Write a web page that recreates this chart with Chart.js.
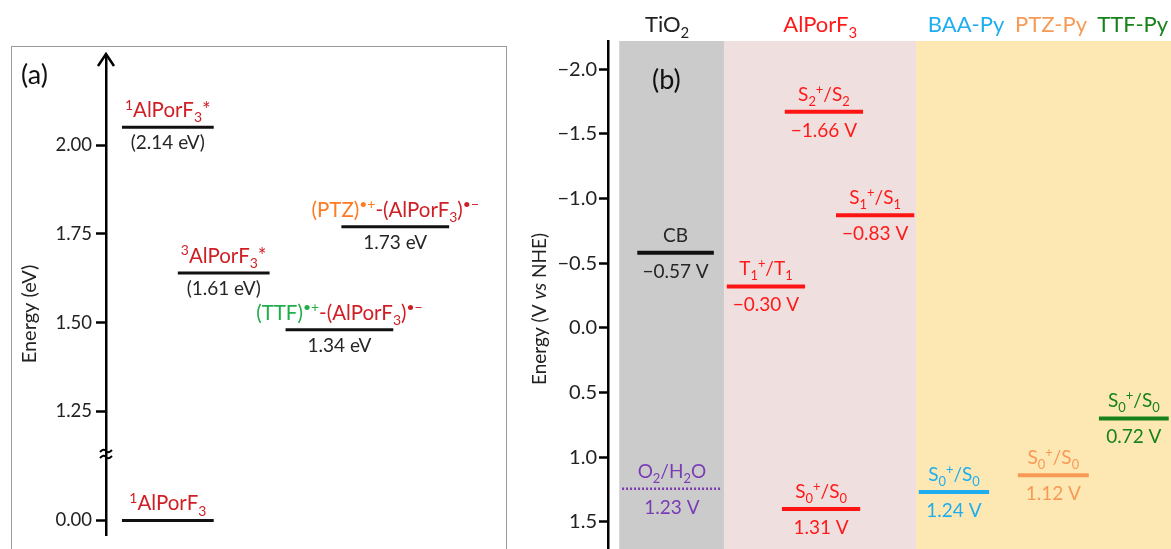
<!DOCTYPE html>
<html>
<head>
<meta charset="utf-8">
<script src="https://cdn.jsdelivr.net/npm/chart.js@4.4.1/dist/chart.umd.min.js"></script>
<style>
  body { margin: 0; background: #fff; width: 1171px; height: 549px; overflow: hidden; position: relative; }
  #boxA { position: absolute; left: 11px; top: 46px; width: 494px; height: 560px; border: 1.5px solid #9a9a9a; }
  canvas { position: absolute; top: 0; }
</style>
</head>
<body>
<div id="boxA"></div>
<canvas id="chartA" width="515" height="549" style="left:0"></canvas>
<canvas id="chartB" width="656" height="549" style="left:515px"></canvas>
<script>
// ---- panel (a): excited state energies ----
const aNames = ['1AlPorF3*', '3AlPorF3*', 'PTZ-CS', 'TTF-CS', '1AlPorF3'];
const aEnergy = [2.05, 1.64, 1.77, 1.48, 0.00];
const aStart = [4, 18, 59, 45, 4];
const aEnd = [27, 41, 86, 72, 27];
const aValueText = ['(2.14 eV)', '(1.61 eV)', '1.73 eV', '1.34 eV', ''];
const aTicks = [0.00, 1.25, 1.50, 1.75, 2.00];

// ---- panel (b): redox potentials ----
const bNames = ['CB', 'O2/H2O', 'T1', 'S0', 'S2', 'S1', 'BAA-Py', 'PTZ-Py', 'TTF-Py'];
const bPotential = [-0.58, 1.245, -0.32, 1.40, -1.67, -0.87, 1.27, 1.14, 0.70];
const bStart = [5.2, 2.5, 21.1, 30.9, 31.4, 40.5, 55.2, 72.8, 87.2];
const bEnd = [18.8, 20.2, 35.0, 44.8, 45.3, 54.4, 67.7, 85.4, 99.6];
const bLabels = ['CB', 'O_2/H_2O', 'T_1^+/T_1', 'S_0^+/S_0', 'S_2^+/S_2', 'S_1^+/S_1', 'S_0^+/S_0', 'S_0^+/S_0', 'S_0^+/S_0'];
const bValueText = ['\u22120.57 V', '1.23 V', '\u22120.30 V', '1.31 V', '\u22121.66 V', '\u22120.83 V', '1.24 V', '1.12 V', '0.72 V'];
const bTicks = [-2.0, -1.5, -1.0, -0.5, 0.0, 0.5, 1.0, 1.5];
const bColumns = ['TiO_2', 'AlPorF_3', 'BAA-Py', 'PTZ-Py', 'TTF-Py'];
const bColumnFrom = [2, 20.6, 54.7, 54.7, 54.7];
const bColumnTo = [20.6, 54.7, 100, 100, 100];
const bColumnCenter = [10.5, 37.7, 63.6, 78.7, 93.2];

const FONT = 'Lato, "Open Sans", sans-serif';
const darkRed = '#cf1f26', black = '#262626';
const aColors = ['#111', '#111', '#111', '#111', '#111'];
const aLabelSegs = [
  [['^1AlPorF_3*', darkRed]],
  [['^3AlPorF_3*', darkRed]],
  [['(PTZ)^{\u2022+}', '#ff7a22'], ['-(AlPorF_3)^{\u2022\u2212}', darkRed]],
  [['(TTF)^{\u2022+}', '#1fae4a'], ['-(AlPorF_3)^{\u2022\u2212}', darkRed]],
  [['^1AlPorF_3', darkRed]]
];
const bColors = ['#111', '#7a3cb4', '#ff1414', '#ff1414', '#ff1414', '#ff1414', '#1eaeef', '#f79a55', '#17821a'];
const bTextColors = ['#262626', '#7a3cb4', '#ff1a1a', '#ff1a1a', '#ff1a1a', '#ff1a1a', '#1eaeef', '#f79a55', '#17821a'];
const bColumnColors = ['#cbcbcb', '#f0dfdf', '#fde8b4', null, null];
const bColumnText = ['#222', '#ff1a1a', '#1eaeef', '#f79a55', '#17821a'];

// broken axis: ground state is drawn just below the break
const SHIFT = 0.943;
const plotY = v => v < 1 ? v + SHIFT : v;
const realY = p => p < 1.1 ? p - SHIFT : p;

function parseRich(str) {
  const runs = [];
  let i = 0;
  while (i < str.length) {
    const ch = str[i];
    if (ch === '_' || ch === '^') {
      let t;
      if (str[i + 1] === '{') {
        const j = str.indexOf('}', i);
        t = str.slice(i + 2, j);
        i = j + 1;
      } else {
        t = str[i + 1];
        i += 2;
      }
      runs.push({ t: t, mode: ch === '_' ? 1 : 2 });
    } else {
      let j = i;
      while (j < str.length && str[j] !== '_' && str[j] !== '^') j++;
      runs.push({ t: str.slice(i, j), mode: 0 });
      i = j;
    }
  }
  return runs;
}

function drawRich(ctx, segs, cx, base, size) {
  const parts = [];
  segs.forEach(s => parseRich(s[0]).forEach(r => parts.push({ t: r.t, mode: r.mode, c: s[1] })));
  let total = 0;
  parts.forEach(p => {
    p.size = p.mode ? size * 0.68 : size;
    ctx.font = p.size + 'px ' + FONT;
    p.w = ctx.measureText(p.t).width;
    total += p.w;
  });
  let x = cx - total / 2;
  ctx.textAlign = 'left';
  ctx.textBaseline = 'alphabetic';
  parts.forEach(p => {
    ctx.font = p.size + 'px ' + FONT;
    ctx.fillStyle = p.c;
    const dy = p.mode === 1 ? size * 0.25 : p.mode === 2 ? -size * 0.38 : 0;
    ctx.fillText(p.t, x, base + dy);
    x += p.w;
  });
}

function levelDatasets(values, starts, ends, colors, width, mapY, dotted) {
  return values.map((v, i) => ({
    data: [{ x: starts[i], y: mapY(v) }, { x: ends[i], y: mapY(v) }],
    showLine: true,
    borderColor: colors[i],
    borderWidth: i === dotted ? 2.5 : width,
    pointRadius: 0,
    borderDash: i === dotted ? [2, 2] : []
  }));
}

const labelsA = {
  id: 'labelsA',
  afterDraw(chart) {
    const ctx = chart.ctx, xs = chart.scales.x, ys = chart.scales.y;
    const area = chart.chartArea;
    ctx.save();
    // arrow head on top of axis
    ctx.strokeStyle = '#000';
    ctx.lineWidth = 2.5;
    ctx.beginPath();
    ctx.moveTo(area.left - 8, area.top + 9);
    ctx.lineTo(area.left, area.top - 3);
    ctx.lineTo(area.left + 8, area.top + 9);
    ctx.moveTo(area.left, area.top + 1);
    ctx.lineTo(area.left, area.top - 3);
    ctx.stroke();
    // break marks
    const yb = ys.getPixelForValue(1.13);
    ctx.lineWidth = 2;
    [-3, 3].forEach(d => {
      ctx.beginPath();
      ctx.moveTo(area.left - 6, yb + d + 1);
      ctx.quadraticCurveTo(area.left - 2, yb + d - 3, area.left, yb + d);
      ctx.quadraticCurveTo(area.left + 2, yb + d + 3, area.left + 6, yb + d - 1);
      ctx.stroke();
    });
    // level labels
    aEnergy.forEach((v, i) => {
      const cx = xs.getPixelForValue((aStart[i] + aEnd[i]) / 2);
      const y = ys.getPixelForValue(plotY(v));
      drawRich(ctx, aLabelSegs[i], cx, y - 10, 20.5);
      if (aValueText[i]) drawRich(ctx, [[aValueText[i], black]], cx, y + 22, 19);
    });
    // panel tag and axis title
    ctx.font = '27px ' + FONT;
    ctx.fillStyle = '#111';
    ctx.textAlign = 'left';
    ctx.fillText('(a)', 21, 84);
    ctx.translate(30, 314);
    ctx.rotate(-Math.PI / 2);
    ctx.font = '20px ' + FONT;
    ctx.textAlign = 'center';
    ctx.textBaseline = 'middle';
    ctx.fillStyle = '#222';
    ctx.fillText('Energy (eV)', 0, 0);
    ctx.restore();
  }
};

const bandsB = {
  id: 'bandsB',
  beforeDatasetsDraw(chart) {
    const ctx = chart.ctx, xs = chart.scales.x, area = chart.chartArea;
    ctx.save();
    bColumns.forEach((c, i) => {
      if (!bColumnColors[i]) return;
      const x0 = xs.getPixelForValue(bColumnFrom[i]);
      const x1 = xs.getPixelForValue(bColumnTo[i]);
      ctx.fillStyle = bColumnColors[i];
      ctx.fillRect(x0, area.top, x1 - x0, area.bottom - area.top);
    });
    ctx.restore();
  },
  afterDraw(chart) {
    const ctx = chart.ctx, xs = chart.scales.x, ys = chart.scales.y;
    ctx.save();
    bPotential.forEach((v, i) => {
      const cx = xs.getPixelForValue((bStart[i] + bEnd[i]) / 2);
      const y = ys.getPixelForValue(v);
      drawRich(ctx, [[bLabels[i], bTextColors[i]]], cx, y - 11, 19);
      drawRich(ctx, [[bValueText[i], bTextColors[i]]], cx, y + 25, 19);
    });
    bColumns.forEach((c, i) => {
      drawRich(ctx, [[c, bColumnText[i]]], xs.getPixelForValue(bColumnCenter[i]), 32, 22);
    });
    ctx.font = '27px ' + FONT;
    ctx.fillStyle = '#111';
    ctx.textAlign = 'left';
    ctx.fillText('(b)', 652 - 515, 89);
    // axis title with italic "vs"
    ctx.translate(540 - 515, 309);
    ctx.rotate(-Math.PI / 2);
    const segs = [['Energy (V ', ''], ['vs', 'italic '], [' NHE)', '']];
    let tw = 0;
    segs.forEach(s => { ctx.font = s[1] + '19px ' + FONT; tw += ctx.measureText(s[0]).width; });
    let x = -tw / 2;
    ctx.textBaseline = 'middle';
    ctx.fillStyle = '#222';
    segs.forEach(s => {
      ctx.font = s[1] + '19px ' + FONT;
      ctx.fillText(s[0], x, 0);
      x += ctx.measureText(s[0]).width;
    });
    ctx.restore();
  }
};

new Chart(document.getElementById('chartA'), {
  type: 'scatter',
  data: { datasets: levelDatasets(aEnergy, aStart, aEnd, aColors, 3, plotY, -1) },
  options: {
    responsive: false,
    animation: false,
    devicePixelRatio: 1,
    layout: { padding: { top: 57, bottom: 14, right: 10, left: 0 } },
    plugins: { legend: { display: false }, tooltip: { enabled: false } },
    scales: {
      x: { type: 'linear', min: 0, max: 100, display: false },
      y: {
        type: 'linear', min: 0.902, max: 2.248,
        afterFit(s) { s.width = 106; s.paddingTop = 0; s.paddingBottom = 0; },
        afterBuildTicks(s) { s.ticks = aTicks.map(v => ({ value: plotY(v) })); },
        ticks: {
          color: '#222', padding: 4,
          font: { family: FONT, size: 18.5 },
          callback: v => realY(v).toFixed(2)
        },
        grid: { drawOnChartArea: false, drawTicks: true, tickLength: 10, tickColor: '#000', tickWidth: 2.5 },
        border: { display: true, color: '#000', width: 2.5 }
      }
    }
  },
  plugins: [labelsA]
});

new Chart(document.getElementById('chartB'), {
  type: 'scatter',
  data: { datasets: levelDatasets(bPotential, bStart, bEnd, bColors, 4, v => v, 1) },
  options: {
    responsive: false,
    animation: false,
    devicePixelRatio: 1,
    layout: { padding: { top: 41, bottom: 0, right: 0, left: 0 } },
    plugins: { legend: { display: false }, tooltip: { enabled: false } },
    scales: {
      x: { type: 'linear', min: 0, max: 100, display: false },
      y: {
        type: 'linear', reverse: true, min: -2.218, max: 1.71,
        afterFit(s) { s.width = 93; s.paddingTop = 0; s.paddingBottom = 0; },
        afterBuildTicks(s) { s.ticks = bTicks.map(v => ({ value: v })); },
        ticks: {
          color: '#222', padding: 2,
          font: { family: FONT, size: 20 },
          callback: v => (v < 0 ? '\u2212' : '') + Math.abs(v).toFixed(1)
        },
        grid: { drawOnChartArea: false, drawTicks: true, tickLength: 9, tickColor: '#000', tickWidth: 2.5 },
        border: { display: true, color: '#000', width: 2.5 }
      }
    }
  },
  plugins: [bandsB]
});
</script>
</body>
</html>
